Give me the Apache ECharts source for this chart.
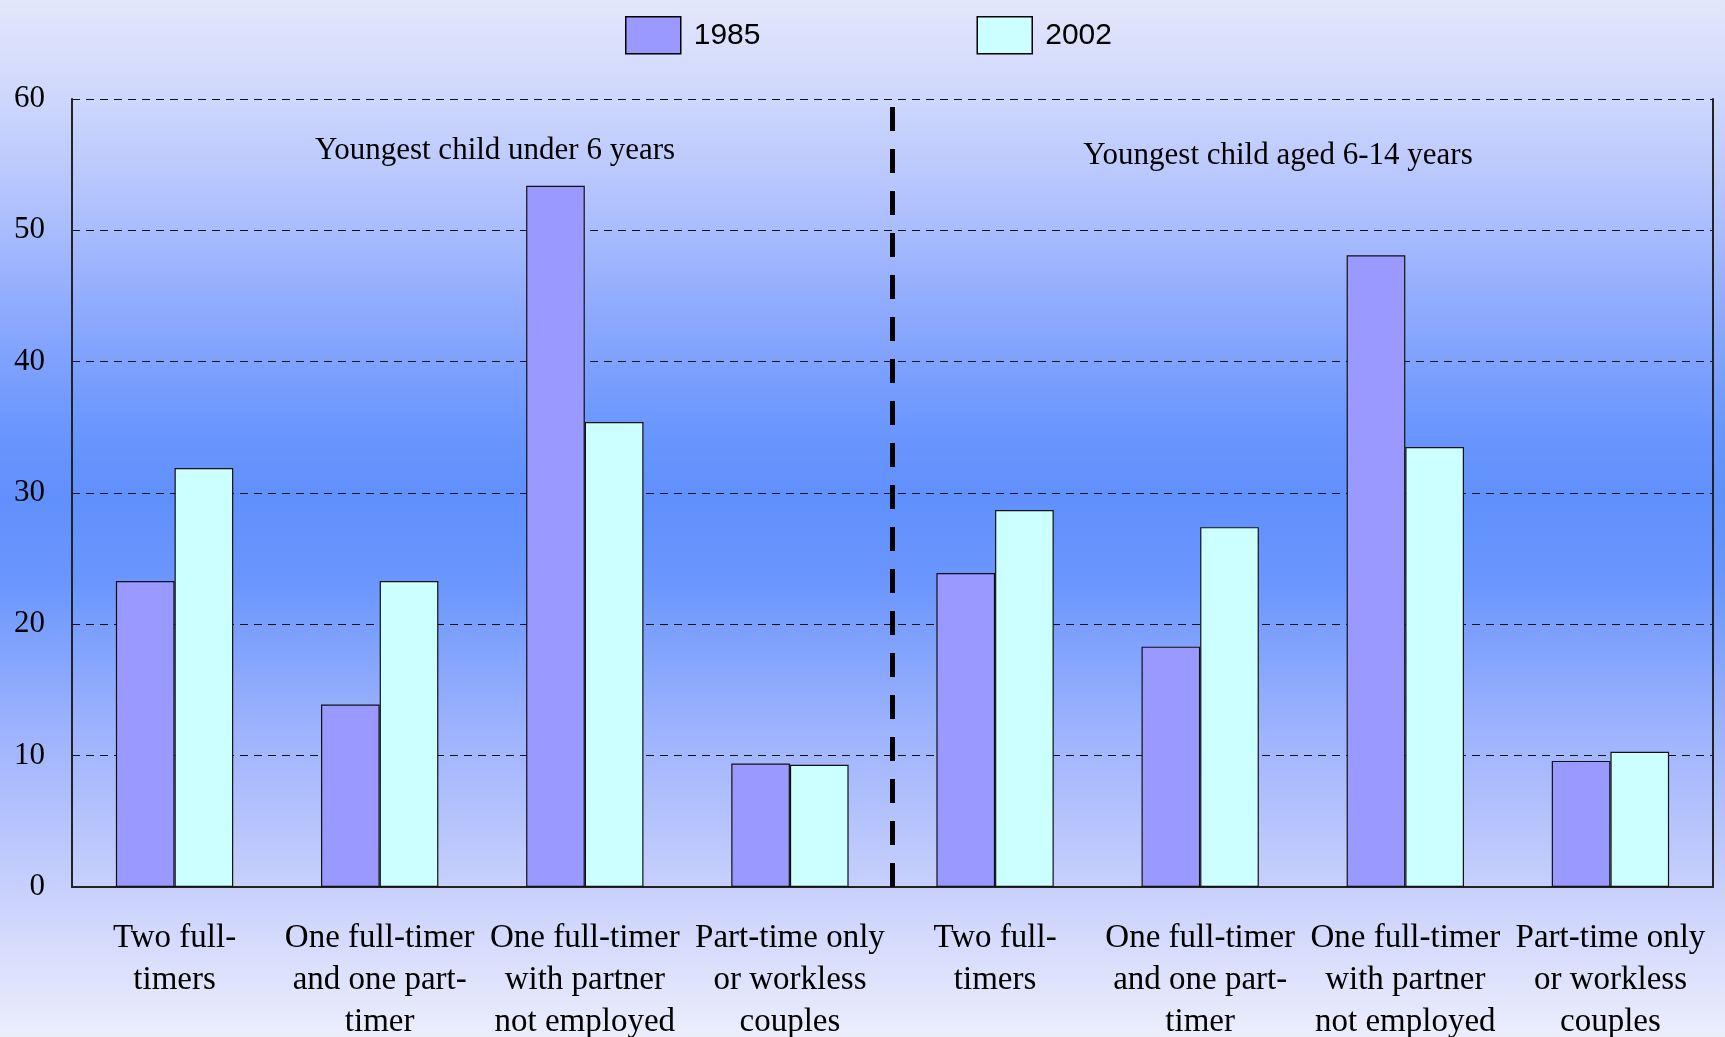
<!DOCTYPE html>
<html>
<head>
<meta charset="utf-8">
<script src="https://cdn.jsdelivr.net/npm/echarts@6/dist/echarts.min.js"></script>
<style>
html,body{margin:0;padding:0;width:1725px;height:1037px;overflow:hidden;}
#chart{width:1725px;height:1037px;}
</style>
</head>
<body>
<div id="chart"></div>
<script>
// ---- data ----
const categories = [
  'Two full-\ntimers',
  'One full-timer\nand one part-\ntimer',
  'One full-timer\nwith partner\nnot employed',
  'Part-time only\nor workless\ncouples',
  'Two full-\ntimers',
  'One full-timer\nand one part-\ntimer',
  'One full-timer\nwith partner\nnot employed',
  'Part-time only\nor workless\ncouples'
];
const seriesNames = ['1985', '2002'];
const values1985 = [23.3, 13.9, 53.4, 9.4, 23.9, 18.3, 48.1, 9.6];
const values2002 = [31.9, 23.3, 35.4, 9.3, 28.7, 27.4, 33.5, 10.3];
const yTicks = { min: 0, max: 60, interval: 10 };
const groupTitles = ['Youngest child under 6 years', 'Youngest child aged 6-14 years'];
const dividerAt = 4; // boundary between the two groups (in category units)

const chart = echarts.init(document.getElementById('chart'));
const serif = '"Liberation Serif", "Times New Roman", serif';

const option = {
  animation: false,
  backgroundColor: new echarts.graphic.LinearGradient(0, 0, 0, 1, [
    { offset: 0.00, color: '#e3e7fb' },
    { offset: 0.10, color: '#cdd6fc' },
    { offset: 0.20, color: '#b0c1fd' },
    { offset: 0.30, color: '#8eaafd' },
    { offset: 0.41, color: '#6b97fd' },
    { offset: 0.48, color: '#6090fd' },
    { offset: 0.56, color: '#6a96fd' },
    { offset: 0.70, color: '#9cb2fd' },
    { offset: 0.85, color: '#c6cffc' },
    { offset: 1.00, color: '#eceefc' }
  ]),
  legend: {
    data: seriesNames,
    left: 620,
    top: 11,
    itemWidth: 55,
    itemHeight: 37,
    itemGap: 216,
    icon: 'rect',
    itemStyle: { borderColor: '#000', borderWidth: 1.5 },
    textStyle: { fontFamily: '"Liberation Sans", Arial, sans-serif', fontSize: 30, color: '#000', padding: [0, 0, 0, 8] }
  },
  grid: { left: 72, right: 12, top: 99, bottom: 150, containLabel: false, outerBoundsMode: 'none' },
  xAxis: [
    {
      type: 'category',
      data: categories,
      axisLine: { show: true, lineStyle: { color: '#222', width: 2 } },
      axisTick: { show: false },
      axisLabel: {
        interval: 0,
        margin: 30,
        fontFamily: serif,
        fontSize: 33,
        lineHeight: 42,
        color: '#000',
        align: 'center'
      }
    },
    { type: 'value', min: 0, max: categories.length, show: false }
  ],
  yAxis: [
    {
      type: 'value',
      min: yTicks.min, max: yTicks.max, interval: yTicks.interval,
      axisLine: { show: true, lineStyle: { color: '#222', width: 2 } },
      axisTick: { show: false },
      axisLabel: { fontFamily: serif, fontSize: 31, color: '#000', margin: 27 },
      splitLine: { show: true, lineStyle: { color: '#111', width: 1, type: [8, 6] } }
    },
    {
      type: 'value', position: 'right',
      min: yTicks.min, max: yTicks.max, interval: yTicks.interval,
      axisLine: { show: true, lineStyle: { color: '#222', width: 2 } },
      axisTick: { show: false }, axisLabel: { show: false }, splitLine: { show: false }
    }
  ],
  series: [
    {
      name: seriesNames[0], type: 'bar', data: values1985,
      barWidth: '28.6%', barGap: '0%',
      itemStyle: { color: '#9999ff', borderColor: '#111', borderWidth: 1.2 }
    },
    {
      name: seriesNames[1], type: 'bar', data: values2002,
      barWidth: '28.6%', barGap: '0%',
      itemStyle: { color: '#ccffff', borderColor: '#111', borderWidth: 1.2 }
    },
    {
      name: 'divider', type: 'line', xAxisIndex: 1, yAxisIndex: 0,
      data: [[dividerAt, yTicks.min], [dividerAt, yTicks.max]],
      symbol: 'none', silent: true,
      lineStyle: { color: '#000', width: 5, type: [24, 18] },
      z: 5
    }
  ],
  graphic: [
    { type: 'text', x: 495, y: 151,
      style: { text: groupTitles[0], fontFamily: serif, fontSize: 31, fill: '#000', textAlign: 'center', textVerticalAlign: 'middle' } },
    { type: 'text', x: 1278, y: 156,
      style: { text: groupTitles[1], fontFamily: serif, fontSize: 31, fill: '#000', textAlign: 'center', textVerticalAlign: 'middle' } }
  ]
};
chart.setOption(option);
</script>
</body>
</html>
